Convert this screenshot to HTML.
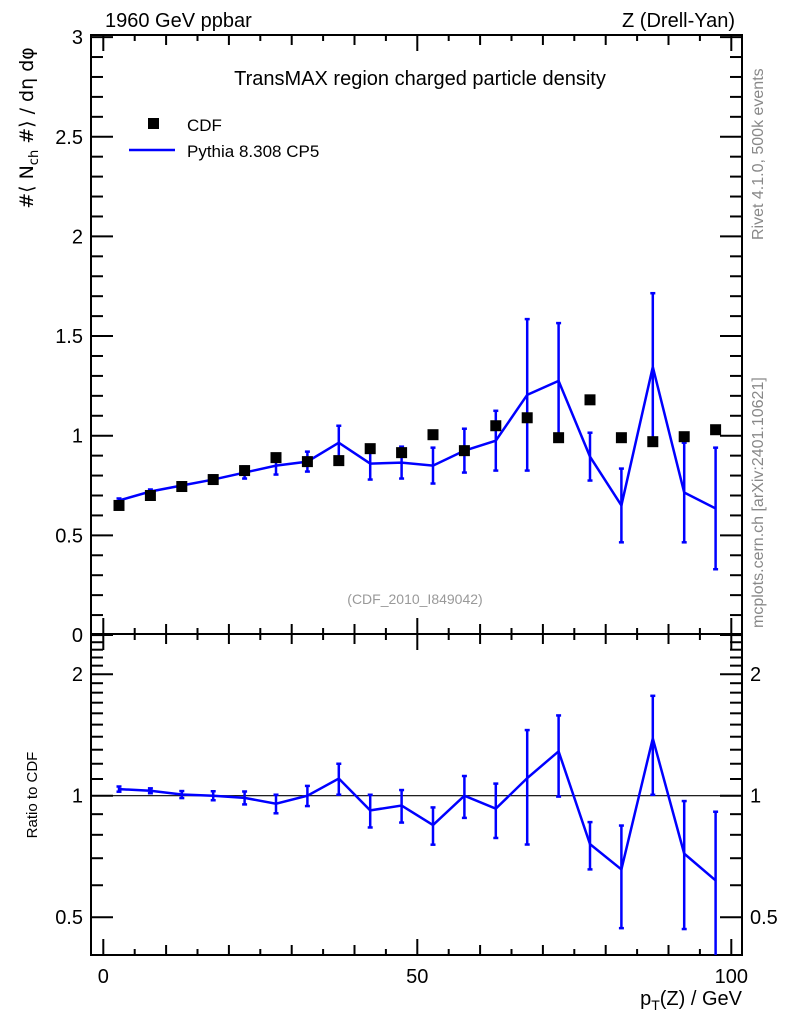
<!DOCTYPE html>
<html><head><meta charset="utf-8"><style>
body{margin:0;background:#fff}
svg{display:block;font-family:"Liberation Sans",sans-serif}
</style></head><body>
<svg id="c" width="786" height="1024" viewBox="0 0 786 1024">
<g id="g"></g>
</svg>
<script>
const xCenters=[2.5,7.5,12.5,17.5,22.5,27.5,32.5,37.5,42.5,47.5,52.5,57.5,62.5,67.5,72.5,77.5,82.5,87.5,92.5,97.5];
const cdfValues=[0.65,0.70,0.745,0.78,0.825,0.89,0.87,0.875,0.935,0.915,1.005,0.925,1.05,1.09,0.99,1.18,0.99,0.97,0.995,1.03];
const mcValues=[0.675,0.72,0.75,0.78,0.815,0.85,0.87,0.965,0.86,0.865,0.85,0.925,0.975,1.205,1.275,0.895,0.65,1.345,0.715,0.635];
const mcErrors=[0.01,0.01,0.015,0.02,0.03,0.045,0.05,0.085,0.08,0.08,0.09,0.11,0.15,0.38,0.29,0.12,0.185,0.37,0.25,0.305];
const xTicks=[0,50,100];
const yTicks=[0,0.5,1,1.5,2,2.5,3];
const rTicks=[0.5,1,2];

const NS="http://www.w3.org/2000/svg";
const g=document.getElementById('g');
const L=91,R=742,T=35,M=634,B=955;
const X=v=>103.3+v*6.28;
const Y=v=>635-v*199.3;
const RY=v=>795.7-Math.log2(v)*121.5;
function el(t,a,name,txt){const e=document.createElementNS(NS,t);for(const k in a)e.setAttribute(k,a[k]);


if(txt!==undefined)e.textContent=txt;g.appendChild(e);return e;}
function line(x1,y1,x2,y2,name,st,w){return el('line',{x1,y1,x2,y2,stroke:st||'#000','stroke-width':w||2},name);}
function text(x,y,s,name,o){const a=Object.assign({x,y,'font-size':20,fill:'#000'},o||{});return el('text',a,name,s);}

el('rect',{x:L,y:T,width:R-L,height:M-T,fill:'none',stroke:'#000','stroke-width':2},'top-frame');
el('rect',{x:L,y:M,width:R-L,height:B-M,fill:'none',stroke:'#000','stroke-width':2},'ratio-frame');

for(let v=0;v<=100;v+=5){const len=v%50===0?16:(v%10===0?10:6);const x=X(v);
 line(x,M,x,M-len,'x-tick-top');line(x,B,x,B-len,'x-tick-bottom');line(x,T,x,T+len,'x-tick-topframe');line(x,M,x,M+len,'x-tick-ratio-top');}
xTicks.forEach(v=>text(X(v),983,v,'x-tick-label',{'text-anchor':'middle'}));

for(let i=0;i<=30;i++){const v=i/10;const y=Y(v);const len=i%5===0?22:12;
 line(L,y,L+len,y,'y-tick');line(R,y,R-len,y,'y-tick-right');}
yTicks.forEach(v=>text(83,Y(v)+7,v,'y-tick-label',{'text-anchor':'end'}));

for(let i=4;i<=25;i++){const v=i/10;const y=RY(v);if(y<M||y>B)continue;const major=(v===0.5||v===1||v===2);const len=major?22:12;
 line(L,y,L+len,y,'ratio-tick');line(R,y,R-len,y,'ratio-tick-right');}
rTicks.forEach(v=>{text(83,RY(v)+7,v,'ratio-tick-label',{'text-anchor':'end'});text(750,RY(v)+7,v,'ratio-tick-label-right');});
line(L,RY(1),R,RY(1),'ratio-unity-line','#000',1.2);

const mcPts=xCenters.map((x,i)=>X(x)+','+Y(mcValues[i])).join(' ');
el('polyline',{points:mcPts,fill:'none',stroke:'#0000ff','stroke-width':2.5},'pythia-line');
xCenters.forEach((x,i)=>{const cx=X(x);const y1=Y(mcValues[i]-mcErrors[i]),y2=Y(mcValues[i]+mcErrors[i]);
 line(cx,y1,cx,y2,'pythia-error-bar','#0000ff',2.5);line(cx-2.5,y1,cx+2.5,y1,'pythia-error-cap','#0000ff',2.5);line(cx-2.5,y2,cx+2.5,y2,'pythia-error-cap','#0000ff',2.5);});
xCenters.forEach((x,i)=>el('rect',{x:X(x)-5.5,y:Y(cdfValues[i])-5.5,width:11,height:11,fill:'#000'},'cdf-point'));

const rPts=xCenters.map((x,i)=>X(x)+','+RY(mcValues[i]/cdfValues[i])).join(' ');
el('polyline',{points:rPts,fill:'none',stroke:'#0000ff','stroke-width':2.5},'ratio-line');
xCenters.forEach((x,i)=>{const cx=X(x);const r=mcValues[i]/cdfValues[i],e=mcErrors[i]/cdfValues[i];
 let y1=RY(Math.max(r-e,0.01)),y2=RY(r+e);y1=Math.min(y1,B);
 line(cx,y1,cx,y2,'ratio-error-bar','#0000ff',2.5);if(y1<B)line(cx-2.5,y1,cx+2.5,y1,'ratio-error-cap','#0000ff',2.5);line(cx-2.5,y2,cx+2.5,y2,'ratio-error-cap','#0000ff',2.5);});

text(105,27,'1960 GeV ppbar','beam-label');
text(735,27,'Z (Drell-Yan)','process-label',{'text-anchor':'end'});
text(420,85,'TransMAX region charged particle density','plot-title',{'text-anchor':'middle'});
el('rect',{x:148,y:118,width:11,height:11,fill:'#000'},'legend-cdf-marker');
text(187,131,'CDF','legend-cdf-label',{'font-size':17});
line(129,150,175,150,'legend-pythia-line','#0000ff',2.5);
text(187,157,'Pythia 8.308 CP5','legend-pythia-label',{'font-size':17});
text(415,604,'(CDF_2010_I849042)','analysis-id',{'text-anchor':'middle','font-size':14,fill:'#999'});
text(742,1005,'','x-axis-title',{'text-anchor':'end'});
const xt=g.lastChild;xt.innerHTML='p<tspan font-size="14" dy="5">T</tspan><tspan dy="-5">(Z) / GeV</tspan>';
const yl=text(0,0,'','y-axis-title',{transform:'translate(33,128) rotate(-90)','text-anchor':'middle',style:'font-family:"DejaVu Sans","Liberation Sans",sans-serif','font-size':19});
yl.innerHTML='#⟨ N<tspan font-size="13" dy="5">ch</tspan><tspan dy="-5"> #⟩ / dη dφ</tspan>';
text(0,0,'Ratio to CDF','ratio-axis-title',{transform:'translate(37,795) rotate(-90)','text-anchor':'middle','font-size':15});
text(0,0,'Rivet 4.1.0,  500k events','rivet-label',{transform:'translate(763,240) rotate(-90)','font-size':16,fill:'#888'});
text(0,0,'mcplots.cern.ch [arXiv:2401.10621]','mcplots-label',{transform:'translate(763,628) rotate(-90)','font-size':16,fill:'#888'});
</script>
</body></html>
